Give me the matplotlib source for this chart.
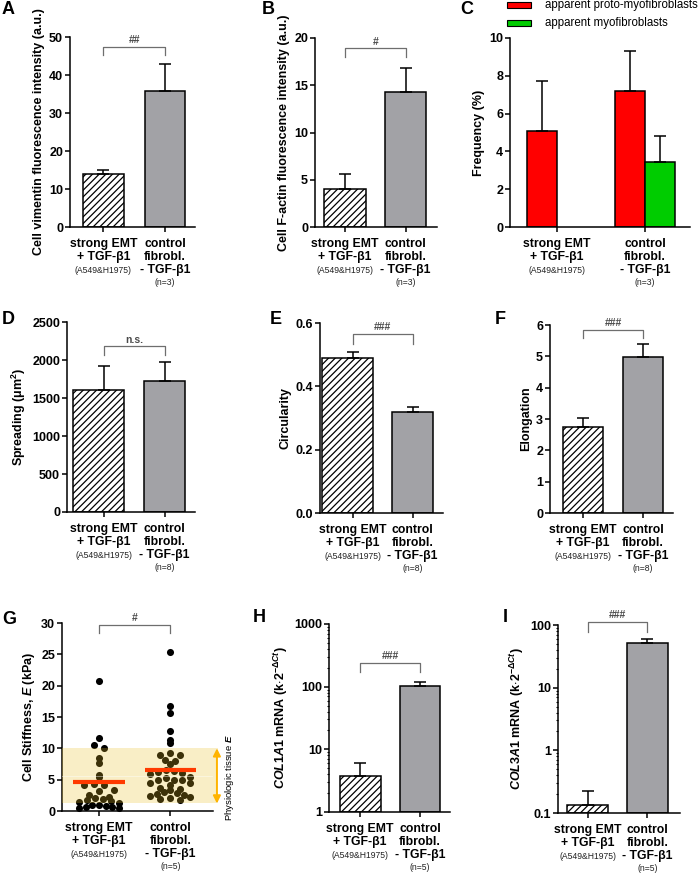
import numpy as np
import matplotlib.pyplot as plt
from matplotlib.patches import Rectangle
from matplotlib.ticker import LogLocator, NullFormatter

plt.rcParams.update({
    "font.family": ["Liberation Sans", "DejaVu Sans"],
    "font.weight": "bold",
    "axes.labelweight": "bold",
    "axes.linewidth": 1.1,
    "xtick.major.width": 1.1,
    "ytick.major.width": 1.1,
    "xtick.major.size": 3.5,
    "ytick.major.size": 3.5,
    "ytick.minor.size": 1.8,
    "ytick.minor.width": 0.8,
    "hatch.linewidth": 0.9,
    "mathtext.fontset": "custom",
    "mathtext.rm": "Liberation Sans:bold",
    "mathtext.it": "Liberation Sans:bold:italic",
    "mathtext.bf": "Liberation Sans:bold",
    "mathtext.sf": "Liberation Sans:italic",
})

# === data ===
vimentin = [14.0, 35.8]
vimentin_sem = [1.1, 7.0]
factin = [4.05, 14.3]
factin_sem = [1.55, 2.55]
proto_myo = [5.1, 7.2]
proto_myo_sem = [2.6, 2.1]
myo = [np.nan, 3.45]
myo_sem = [np.nan, 1.35]
spreading = [1606, 1730]
spreading_sem = [310, 250]
circularity = [0.491, 0.320]
circularity_sem = [0.017, 0.016]
elongation = [2.76, 4.97]
elongation_sem = [0.27, 0.41]
col1a1 = [3.7, 104]
col1a1_sem = [2.35, 16]
col3a1 = [0.133, 52]
col3a1_sem = [0.089, 8.4]

stiff_emt = [20.7, 11.7, 10.5, 10.1, 8.5, 7.6, 5.7, 5.4, 4.3, 4.2, 4.1, 3.4, 3.2, 2.6,
             2.3, 2.1, 1.9, 1.8, 1.6, 1.4, 1.2, 1.0, 0.9, 0.8, 0.7, 0.6, 0.5, 0.5]
stiff_ctrl = [25.3, 16.8, 15.7, 12.8, 11.4, 10.8, 9.3, 9.0, 8.9, 8.1, 8.0, 7.5, 6.6, 6.4,
              6.2, 6.0, 5.9, 5.5, 5.3, 5.0, 5.0, 4.9, 4.5, 4.4, 4.1, 3.7, 3.5, 3.3, 3.0,
              2.8, 2.7, 2.5, 2.4, 2.2, 2.0, 1.9, 1.8]
stiff_mean = [4.6, 6.5]
physio_range = [1.2, 10.0]

n_labels = ["(n=3)", "(n=3)", "(n=3)", "(n=8)", "(n=8)", "(n=8)", "(n=5)", "(n=5)", "(n=5)"]
sig_labels = ["##", "#", "n.s.", "###", "###", "#", "###", "###"]

GRAY = "#a2a2a6"
BR_COLOR = "#6e6e6e"
TICK_FS = 9
YLAB_FS = 9
XLAB_FS = 8.8

fig = plt.figure(figsize=(7, 8.75), dpi=100)


def add_ax(L, R, T, B):
    return fig.add_axes([L / 700, 1 - B / 875, (R - L) / 700, (B - T) / 875])


def style(ax, xlim, ylabel, yticks, ylabels=None):
    ax.spines["top"].set_visible(False)
    ax.spines["right"].set_visible(False)
    ax.set_xlim(*xlim)
    ax.set_xticks([0, 1])
    ax.set_xticklabels([])
    if ylabels is None:
        ylabels = [f"{v:g}" for v in yticks]
    ax.set_yticks(yticks, ylabels, fontweight="bold", fontsize=TICK_FS)
    ax.tick_params(axis="y", pad=1.5)
    ax.set_ylabel(ylabel, fontsize=YLAB_FS, fontweight="bold", labelpad=3)


def group_labels(ax, n_text):
    offsets = [12.5, 21.8, 31, 39.8]
    left = [("strong EMT", XLAB_FS, "bold"), ("+ TGF-β1", XLAB_FS, "bold"),
            ("(A549&H1975)", 6.2, "normal")]
    right = [("control", XLAB_FS, "bold"), ("fibrobl.", XLAB_FS, "bold"),
             ("- TGF-β1", XLAB_FS, "bold"), (n_text, 6.2, "normal")]
    for x, lines in zip([0, 1], [left, right]):
        for (txt, fs, fw), off in zip(lines, offsets):
            ax.annotate(txt, xy=(x, 0), xycoords=("data", "axes fraction"),
                        xytext=(0, -off), textcoords="offset points", ha="center", va="center",
                        fontsize=fs, fontweight=fw, color="#222222" if fw == "normal" else "black",
                        annotation_clip=False)


def bracket(ax, y_top, y_leg, label):
    ax.plot([0, 0, 1, 1], [y_leg, y_top, y_top, y_leg], color=BR_COLOR, lw=0.9,
            clip_on=False, zorder=5)
    ax.annotate(label, xy=(0.5, y_top), xytext=(0, 1.2), textcoords="offset points",
                ha="center", va="bottom", fontsize=7.5, color="#4a4a4a", fontweight="bold",
                annotation_clip=False)


def bar_pair(ax, vals, errs, width=0.67, hatch_span=None, bottom=0):
    if hatch_span is None:
        hatch_span = (-width / 2, width / 2)
    ax.bar(hatch_span[0], vals[0] - bottom, width=hatch_span[1] - hatch_span[0], bottom=bottom,
           align="edge", color="white", edgecolor="black", hatch="/////", linewidth=1.1, zorder=2)
    ax.bar(1, vals[1] - bottom, width=width, bottom=bottom, color=GRAY, edgecolor="black",
           linewidth=1.1, zorder=2)
    ax.errorbar([0, 1], vals, yerr=[[0, 0], errs], fmt="none", ecolor="black",
                elinewidth=1.1, capsize=4.5, capthick=1.1, zorder=3)


def row_offsets(values, bin_h, px_x, step_px=10.0, max_half_px=20.0):
    # GraphPad-like scatter: points binned in rows, spread symmetrically in each row
    values = np.asarray(values)
    bins = np.floor(values / bin_h).astype(int)
    offs = np.zeros(len(values))
    for b in np.unique(bins):
        idx = np.where(bins == b)[0]
        idx = idx[np.argsort(values[idx])[::-1]]
        n = len(idx)
        st = step_px if n < 2 else min(step_px, 2 * max_half_px / (n - 1))
        pos = (np.arange(n) - (n - 1) / 2) * st
        pos = pos[np.argsort(np.abs(pos), kind="stable")]
        offs[idx] = pos / px_x
    return offs


# === A ===
ax = add_ax(70, 195, 37, 227)
bar_pair(ax, vimentin, vimentin_sem, width=0.66)
style(ax, (-0.545, 1.49), "Cell vimentin fluorescence intensity (a.u.)", np.arange(0, 51, 10))
ax.set_ylim(0, 50)
bracket(ax, 47.4, 45.2, sig_labels[0])
group_labels(ax, n_labels[0])

# === B ===
ax = add_ax(315, 437, 38, 227)
bar_pair(ax, factin, factin_sem, width=0.69)
style(ax, (-0.5, 1.52), "Cell F-actin fluorescence intensity (a.u.)", np.arange(0, 21, 5))
ax.set_ylim(0, 20)
bracket(ax, 18.9, 18.0, sig_labels[1])
group_labels(ax, n_labels[1])

# === C ===
ax = add_ax(510, 690, 38, 227)
w = 0.34
xg = np.array([0, 1])
ax.bar(xg - w / 2, proto_myo, width=w, color="#ff0000", edgecolor="black", linewidth=1.1, zorder=2)
myo_arr = np.array(myo)
ok = ~np.isnan(myo_arr)
ax.bar(xg[ok] + w / 2, myo_arr[ok], width=w, color="#00cc00", edgecolor="black", linewidth=1.1, zorder=2)
ax.errorbar(xg - w / 2, proto_myo, yerr=[[0, 0], proto_myo_sem], fmt="none", ecolor="black",
            elinewidth=1.1, capsize=4.5, capthick=1.1, zorder=3)
ax.errorbar(xg[ok] + w / 2, myo_arr[ok], yerr=[[0] * ok.sum(), np.array(myo_sem)[ok]], fmt="none",
            ecolor="black", elinewidth=1.1, capsize=4.5, capthick=1.1, zorder=3)
style(ax, (-0.53, 1.51), "Frequency (%)", np.arange(0, 11, 2))
ax.set_ylim(0, 10)
group_labels(ax, n_labels[2])
for yy, col, txt in [(5, "#ff0000", "apparent proto-myofibroblasts"),
                     (23, "#00cc00", "apparent myofibroblasts")]:
    fig.patches.append(Rectangle((507 / 700, 1 - (yy + 2.8) / 875), 24 / 700, 5.6 / 875,
                                 transform=fig.transFigure, facecolor=col, edgecolor="black",
                                 linewidth=0.8))
    fig.text(545 / 700, 1 - yy / 875, txt, fontsize=8.3, fontweight="normal", va="center", ha="left")

# === D ===
ax = add_ax(67, 195, 322, 512)
bar_pair(ax, spreading, spreading_sem, width=0.67, hatch_span=(-0.5, 0.336))
style(ax, (-0.6, 1.5), "Spreading (μm$^2$)", np.arange(0, 2501, 500))
ax.set_ylim(0, 2500)
bracket(ax, 2180, 2060, sig_labels[2])
group_labels(ax, n_labels[3])

# === E ===
ax = add_ax(320, 443, 323, 513)
bar_pair(ax, circularity, circularity_sem, width=0.69, hatch_span=(-0.52, 0.336))
style(ax, (-0.555, 1.51), "Circularity", [0, 0.2, 0.4, 0.6], ["0.0", "0.2", "0.4", "0.6"])
ax.set_ylim(0, 0.6)
bracket(ax, 0.565, 0.533, sig_labels[3])
group_labels(ax, n_labels[4])

# === F ===
ax = add_ax(550, 673, 325, 513)
bar_pair(ax, elongation, elongation_sem, width=0.68)
style(ax, (-0.55, 1.5), "Elongation", np.arange(0, 7, 1))
ax.set_ylim(0, 6)
bracket(ax, 5.84, 5.57, sig_labels[4])
group_labels(ax, n_labels[5])

# === G ===
ax = add_ax(62, 213, 623, 811)
px_x = 71.0
for gx, vals in zip([0, 1], [stiff_emt, stiff_ctrl]):
    offs = row_offsets(vals, 1.1, px_x)
    ax.scatter(gx + offs, vals, s=26, color="black", linewidths=0, zorder=2, clip_on=False)
ax.axhspan(physio_range[0], physio_range[1], xmin=0, xmax=1.035, facecolor=(0.92, 0.75, 0.15),
           alpha=0.26, edgecolor="none", zorder=3, clip_on=False)
ax.axhline(np.mean(physio_range), xmin=0, xmax=1.0, color="white", lw=0.6, alpha=0.5, zorder=3)
ax.hlines(stiff_mean, [-0.36, 0.64], [0.36, 1.36], color="#ff3a00", lw=3, zorder=4)
ax.annotate("", xy=(1.026, physio_range[0]), xytext=(1.026, physio_range[1]),
            xycoords=ax.get_yaxis_transform(),
            arrowprops=dict(arrowstyle="<|-|>", color="#ffb400", lw=1.4, mutation_scale=11,
                            shrinkA=0, shrinkB=0), annotation_clip=False)
ax.text(1.11, np.mean(physio_range) - 0.2, r"Physiologic tissue $\mathsf{E}$",
        transform=ax.get_yaxis_transform(), rotation=90, fontsize=6.8, fontweight="normal",
        ha="center", va="center")
style(ax, (-0.52, 1.6), "Cell Stiffness, $E$ (kPa)", np.arange(0, 31, 5))
ax.set_ylim(0, 30)
bracket(ax, 29.7, 28.4, sig_labels[5])
group_labels(ax, n_labels[6])

# === H ===
ax = add_ax(329, 450, 624, 812)
ax.set_yscale("log")
bar_pair(ax, col1a1, col1a1_sem, width=0.68, bottom=1)
style(ax, (-0.52, 1.5), r"$\mathit{COL1A1}$ mRNA (k$\cdot$2$^{-\Delta Ct}$)", [1, 10, 100, 1000])
ax.set_ylim(1, 1000)
ax.yaxis.set_minor_locator(LogLocator(base=10, subs=np.arange(2, 10)))
ax.yaxis.set_minor_formatter(NullFormatter())
bracket(ax, 240, 170, sig_labels[6])
group_labels(ax, n_labels[7])

# === I ===
ax = add_ax(558, 680, 625, 813)
ax.set_yscale("log")
bar_pair(ax, col3a1, col3a1_sem, width=0.69, bottom=0.1)
style(ax, (-0.5, 1.55), r"$\mathit{COL3A1}$ mRNA (k$\cdot$2$^{-\Delta Ct}$)", [0.1, 1, 10, 100])
ax.set_ylim(0.1, 100)
ax.yaxis.set_minor_locator(LogLocator(base=10, subs=np.arange(2, 10)))
ax.yaxis.set_minor_formatter(NullFormatter())
bracket(ax, 112, 78, sig_labels[7])
group_labels(ax, n_labels[8])

# panel letters
for letter, (px, py) in zip("ABCDEFGHI", [(2, 10), (262, 9), (460, 9), (2, 320), (270, 320),
                                           (495, 319), (2, 619), (253, 618), (503, 617)]):
    fig.text(px / 700, 1 - py / 875, letter, fontsize=13, fontweight="bold", ha="left", va="center")

fig.savefig("out.png", dpi=100)
